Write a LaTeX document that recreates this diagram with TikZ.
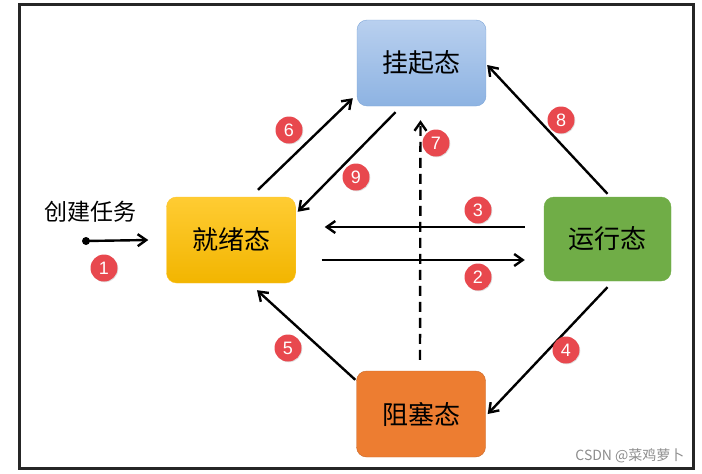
\documentclass[tikz,border=0pt]{standalone}
\usepackage{fontspec}
\newfontfamily\cjk{Noto Sans CJK SC}
\newfontfamily\badgefont{Liberation Sans}
\usetikzlibrary{arrows.meta, shadows}

\definecolor{suspTop}{HTML}{B9D0EF}
\definecolor{suspBot}{HTML}{8DB3E2}
\definecolor{suspLine}{HTML}{7EA6D8}
\definecolor{readyTop}{HTML}{FFCC33}
\definecolor{readyBot}{HTML}{F2B500}
\definecolor{runFill}{HTML}{70AD47}
\definecolor{blockFill}{HTML}{ED7D31}
\definecolor{blockLine}{HTML}{C8692A}
\definecolor{badgeRed}{HTML}{E8484E}

\begin{document}
\begin{tikzpicture}[
    x=1pt, y=-1pt,
    state/.style = {rounded corners=10pt, minimum width=129pt, minimum height=86pt,
                    inner sep=0pt, align=center, font=\cjk\fontsize{26}{30}\selectfont},
    arrow/.style = {line width=2.4pt, -{Straight Barb[length=3mm, width=4.2mm, line width=2.4pt]}},
    badge/.style = {circle, fill=badgeRed, minimum size=27pt, inner sep=0pt, text=white,
                    font=\badgefont\fontsize{18}{18}\selectfont,
                    drop shadow={shadow xshift=0.8pt, shadow yshift=-0.8pt, opacity=0.25}}
  ]

  % page and frame
  \useasboundingbox (0,0) rectangle (702,474);
  \draw[line width=2.4pt, black!85] (19.5,4.5) rectangle (693.5,468.5);

  % state blocks
  \node[state, draw=suspLine, top color=suspTop, bottom color=suspBot] (suspended) at (421.5,63) {挂起态};
  \node[state, draw=readyTop!90!orange, top color=readyTop, bottom color=readyBot] (ready) at (231,240) {就绪态};
  \node[state, draw=runFill, fill=runFill, minimum width=127pt, minimum height=84pt] (running) at (607.5,239) {运行态};
  \node[state, draw=blockLine, fill=blockFill] (blocked) at (421,414) {阻塞态};

  % task creation
  \node[font=\cjk\fontsize{23}{26}\selectfont] (create) at (90,212) {创建任务};
  \coordinate (newtask) at (86,241);
  \fill (newtask) circle (4pt);
  \draw[arrow] (newtask) -- ([xshift=-18pt]ready.west);

  % transitions
  \draw[arrow] ([xshift=26pt, yshift=-20pt]ready.east) -- ([xshift=-19pt, yshift=-21pt]running.west);
  \draw[arrow] ([xshift=-19pt, yshift=12pt]running.west) -- ([xshift=29pt, yshift=13pt]ready.east);
  \draw[arrow] ([yshift=-6pt]running.south) -- ([xshift=2pt]blocked.east);
  \draw[arrow] ([xshift=-1pt, yshift=-9pt]blocked.north west) -- ([xshift=26pt, yshift=-7pt]ready.south);
  \draw[arrow] ([xshift=27pt, yshift=7pt]ready.north) -- ([xshift=-4pt, yshift=8pt]suspended.south west);
  \draw[arrow, dash pattern=on 10pt off 6pt] ([xshift=-1pt, yshift=11pt]blocked.north) -- ([xshift=-1pt, yshift=-14pt]suspended.south);
  \draw[arrow] ([yshift=3pt]running.north) -- ([xshift=1pt, yshift=-2pt]suspended.east);
  \draw[arrow] ([xshift=-26pt, yshift=-6pt]suspended.south) -- ([xshift=2pt, yshift=-15pt]ready.north east);

  % numbered badges
  \foreach \n/\bx/\by in {1/104/268, 2/478/277, 3/478/210, 4/566/350, 5/288/348,
                          6/289/130, 7/436/143, 8/561/120, 9/356/177}
    \node[badge] (b\n) at (\bx,\by) {\n};

  % watermark
  \node[font=\cjk\fontsize{14}{16}\selectfont, text=black!45, anchor=east] (mark) at (688,456) {CSDN @菜鸡萝卜};

\end{tikzpicture}
\end{document}
